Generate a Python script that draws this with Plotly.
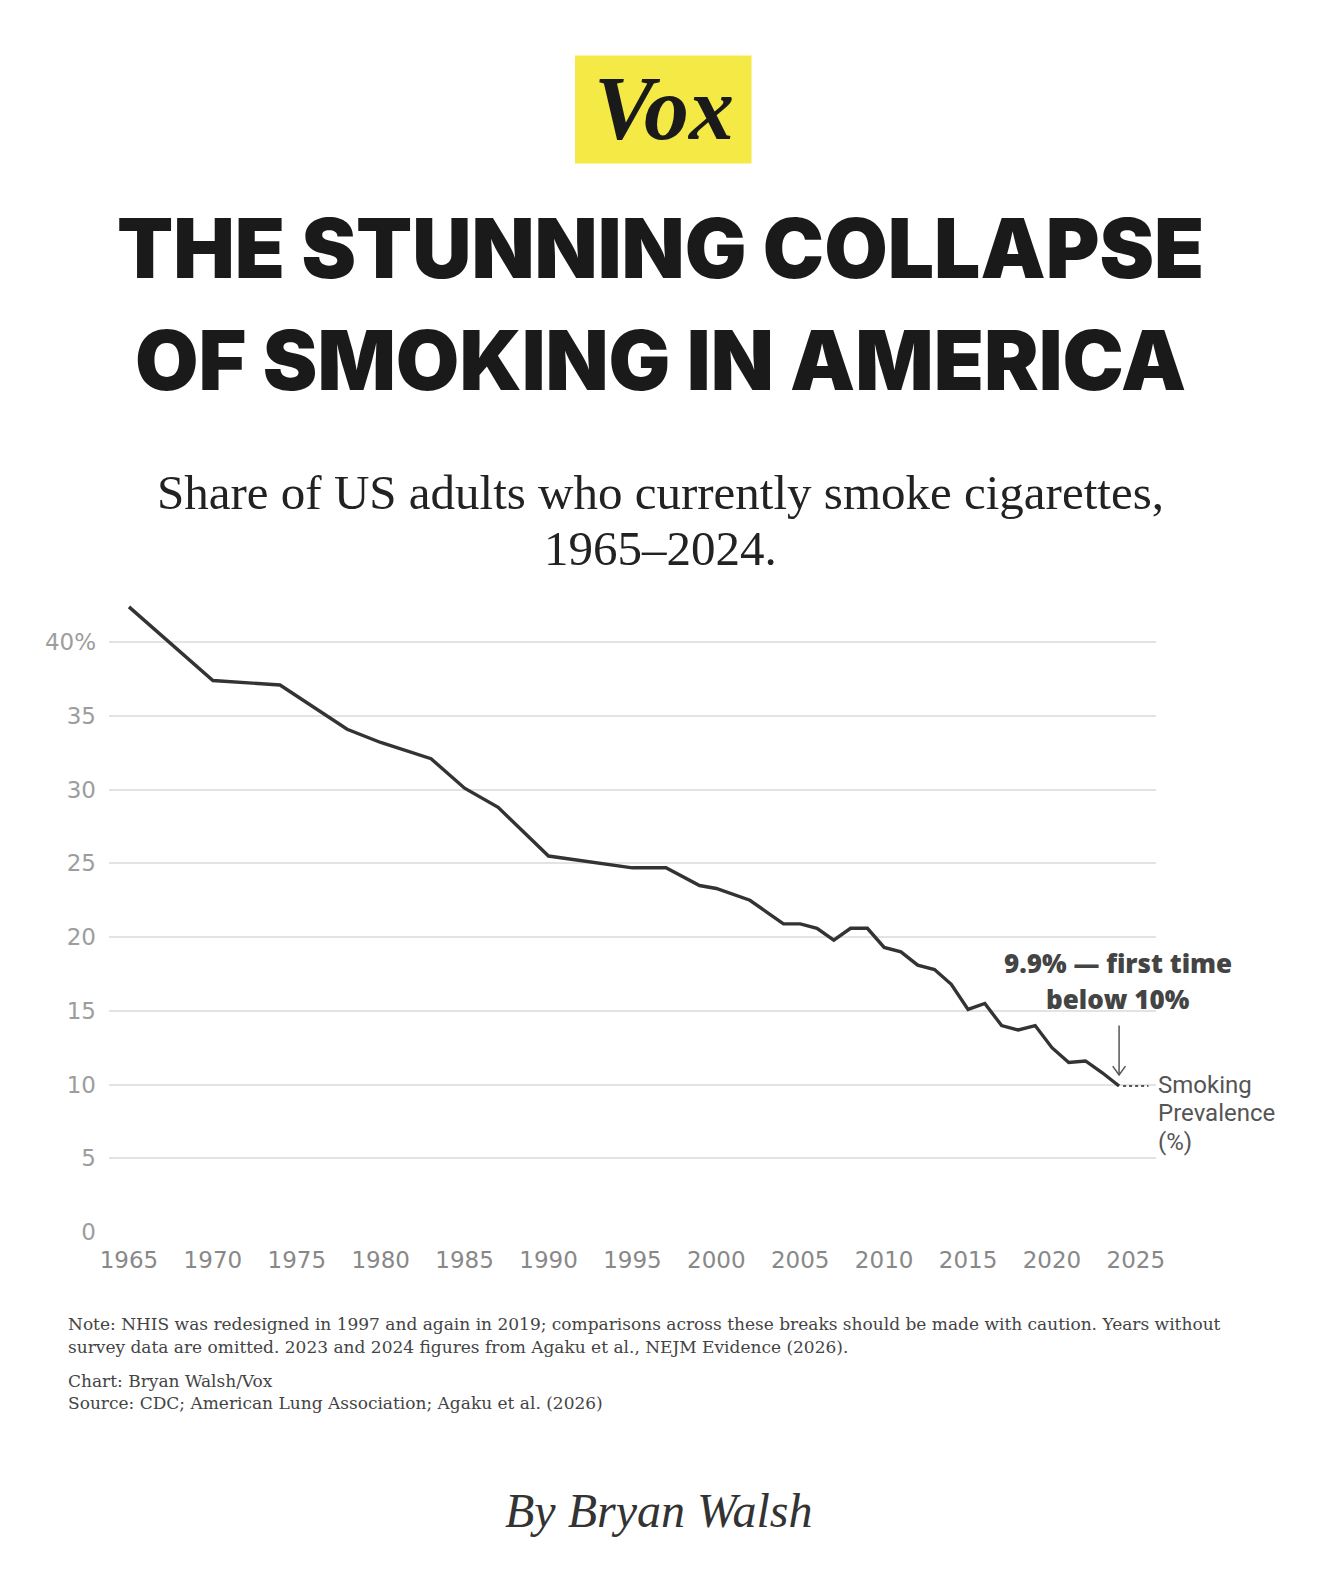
import plotly.graph_objects as go

# ---- data ----
years = [1965, 1970, 1974, 1978, 1980, 1983, 1985, 1987, 1990, 1993, 1995, 1997,
         1998, 1999, 2000, 2001, 2002, 2003, 2004, 2005, 2006, 2007, 2008, 2009,
         2010, 2011, 2012, 2013, 2014, 2015, 2016, 2017, 2018, 2019, 2020, 2021,
         2022, 2023, 2024]
prevalence = [42.4, 37.4, 37.1, 34.1, 33.2, 32.1, 30.1, 28.8, 25.5, 25.0, 24.7, 24.7,
              24.1, 23.5, 23.3, 22.9, 22.5, 21.7, 20.9, 20.9, 20.6, 19.8, 20.6, 20.6,
              19.3, 19.0, 18.1, 17.8, 16.8, 15.1, 15.5, 14.0, 13.7, 14.0, 12.5, 11.5,
              11.6, 10.8, 9.9]
x_ticks = [1965, 1970, 1975, 1980, 1985, 1990, 1995, 2000, 2005, 2010, 2015, 2020, 2025]
y_ticks = [0, 5, 10, 15, 20, 25, 30, 35, 40]
y_ticktext = ["0", "5", "10", "15", "20", "25", "30", "35", "40%"]

# page is 1320x1590; the browser adds an 8px body margin around the figure
PAGE_W, PAGE_H, OFF = 1320, 1590, 8
W, H = PAGE_W - 2 * OFF, PAGE_H - 2 * OFF
# plot box in page pixels
PL, PR, PT, PB = 109, 1156, 597.75, 1232


def px(x):
    return (x - PL) / (PR - PL)


def py(y):
    return (PB - y) / (PB - PT)


SANS = "Roboto, 'Open Sans', sans-serif"
TICK = "'DejaVu Sans', sans-serif"
BOLD = "'Open Sans', Roboto, sans-serif"
SERIF = "'Liberation Serif', 'DejaVu Serif', serif"
NOTE_SERIF = "'DejaVu Serif', serif"

fig = go.Figure()
fig.add_trace(go.Scatter(x=years, y=prevalence, mode="lines",
                         line=dict(color="#333333", width=3.4),
                         hoverinfo="x+y", showlegend=False))

fig.update_layout(
    width=W, height=H,
    margin=dict(l=PL - OFF, r=W - (PR - OFF), t=PT - OFF, b=H - (PB - OFF), pad=0),
    paper_bgcolor="white", plot_bgcolor="white",
    xaxis=dict(range=[1963.81, 2026.2], tickvals=x_ticks, showgrid=False,
               zeroline=False, showline=False, ticks="",
               tickfont=dict(family=TICK, size=23, color="#888888"),
               ticklabelstandoff=12, fixedrange=True),
    yaxis=dict(range=[0, 43], tickvals=y_ticks, ticktext=y_ticktext,
               showgrid=True, gridcolor="#e3e3e3", gridwidth=1.5,
               zeroline=False, showline=False, ticks="",
               tickfont=dict(family=TICK, size=23, color="#9d9d9d"),
               ticklabelstandoff=12, fixedrange=True),
)

ann = []
# Vox logo
fig.add_shape(type="rect", xref="paper", yref="paper",
              x0=px(575), x1=px(751.5), y0=py(163), y1=py(55),
              fillcolor="#F5E946", line=dict(width=0), layer="above")
ann.append(dict(text="<b><i>Vox</i></b>", x=px(664), y=py(108),
                font=dict(family=SERIF, size=90, color="#1a1a1a")))
# Title
TITLE_FONT = dict(family="Inter, sans-serif", size=82, color="#1a1a1a", weight=900)
ann.append(dict(text="THE STUNNING COLLAPSE", x=px(660), y=py(248), font=TITLE_FONT))
ann.append(dict(text="OF SMOKING IN AMERICA", x=px(660), y=py(360), font=TITLE_FONT))
# Subtitle
SUB_FONT = dict(family=SERIF, size=49, color="#222222")
ann.append(dict(text="Share of US adults who currently smoke cigarettes,", x=px(660), y=py(492), font=SUB_FONT))
ann.append(dict(text="1965–2024.", x=px(660), y=py(548), font=SUB_FONT))
# Chart annotation
ANN_FONT = dict(family=BOLD, size=26, color="#444444", weight=800)
ann.append(dict(text="9.9% — first time", x=px(1118), y=py(963), font=ANN_FONT))
ann.append(dict(text="below 10%", x=px(1118), y=py(999), font=ANN_FONT))
LBL_FONT = dict(family=SANS, size=24, color="#555555")
for i, t in enumerate(["Smoking", "Prevalence", "(%)"]):
    ann.append(dict(text=t, x=px(1157), y=py(1085 + 28.3 * i), xanchor="left",
                    borderpad=0, font=LBL_FONT))
# Notes
NOTE_FONT = dict(family=NOTE_SERIF, size=17, color="#444444")
note_lines = [
    ("Note: NHIS was redesigned in 1997 and again in 2019; comparisons across these breaks should be made with caution. Years without", 1324),
    ("survey data are omitted. 2023 and 2024 figures from Agaku et al., NEJM Evidence (2026).", 1347.5),
    ("Chart: Bryan Walsh/Vox", 1381),
    ("Source: CDC; American Lung Association; Agaku et al. (2026)", 1403.5),
]
for t, y in note_lines:
    ann.append(dict(text=t, x=px(67), y=py(y), xanchor="left", borderpad=0, font=NOTE_FONT))
ann.append(dict(text="<i>By Bryan Walsh</i>", x=px(659), y=py(1511),
                font=dict(family=SERIF, size=48, color="#333333")))

for a in ann:
    a.setdefault("xref", "paper")
    a.setdefault("yref", "paper")
    a.setdefault("showarrow", False)
    a.setdefault("xanchor", "center")
    a.setdefault("yanchor", "middle")
    fig.add_annotation(**a)

# arrow pointing to last value
last_x, last_y = years[-1], prevalence[-1]
fig.add_shape(type="line", xref="x", yref="y", x0=last_x, x1=last_x,
              y0=last_y + 4.1, y1=last_y + 0.75, line=dict(color="#555555", width=1.5))
fig.add_shape(type="path", xref="x", yref="y",
              path=f"M {last_x - 0.38},{last_y + 1.35} L {last_x},{last_y + 0.75} L {last_x + 0.38},{last_y + 1.35}",
              line=dict(color="#555555", width=1.5))
# dotted leader to label
fig.add_shape(type="line", xref="x", yref="y", x0=last_x + 0.24, x1=2025.75,
              y0=last_y, y1=last_y, line=dict(color="#555555", width=2, dash="dot"))

fig.write_html("out.html")
